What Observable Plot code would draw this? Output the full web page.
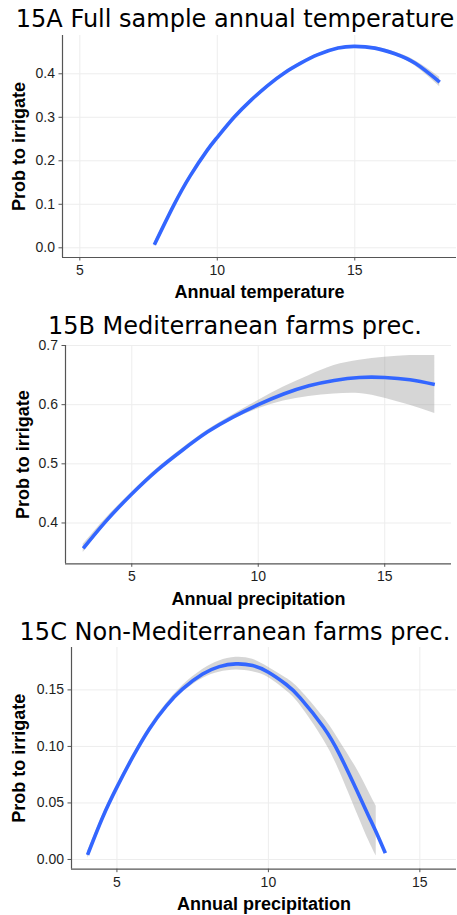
<!DOCTYPE html>
<html>
<head>
<meta charset="utf-8">
<script src="https://cdn.jsdelivr.net/npm/d3@7"></script>
<script src="https://cdn.jsdelivr.net/npm/@observablehq/plot@0.6"></script>
<style>
  body { margin: 0; background: #fff; }
  #page { position: relative; width: 457px; height: 915px; overflow: hidden; background: #fff; }
  .title { position: absolute; left: 0; width: 470px; text-align: center; font-family: "DejaVu Sans", Verdana, sans-serif; font-size: 24px; line-height: 24px; color: #000; white-space: nowrap; }
  .panel { position: absolute; left: 0; }
</style>
</head>
<body>
<div id="page"></div>
<script>
// 15A: fitted probability to irrigate vs annual temperature (full sample)
const tempX = [7.71, 8.41, 9.02, 9.63, 10, 10.61, 11.22, 11.83, 12.44, 13.05, 13.66, 14.39, 15, 15.73, 16.46, 17.2, 18.09];
const tempFit = [0.007, 0.097, 0.166, 0.224, 0.254, 0.300, 0.339, 0.373, 0.402, 0.425, 0.444, 0.459, 0.463, 0.459, 0.446, 0.424, 0.381];
const tempLow = [0.002, 0.093, 0.163, 0.222, 0.252, 0.298, 0.337, 0.371, 0.400, 0.423, 0.442, 0.457, 0.461, 0.456, 0.442, 0.418, 0.370];
const tempHigh = [0.012, 0.101, 0.169, 0.226, 0.256, 0.302, 0.341, 0.375, 0.404, 0.427, 0.446, 0.461, 0.465, 0.462, 0.450, 0.430, 0.392];

// 15B: Mediterranean farms, annual precipitation
const medX = [3.08, 4, 5, 6, 7, 8, 9, 10, 11, 12, 13, 14, 15, 16, 16.98];
const medFit = [0.357, 0.404, 0.449, 0.489, 0.523, 0.554, 0.579, 0.600, 0.618, 0.632, 0.641, 0.646, 0.646, 0.642, 0.634];
const medLow = [0.350, 0.399, 0.446, 0.486, 0.520, 0.551, 0.575, 0.593, 0.606, 0.614, 0.618, 0.619, 0.611, 0.599, 0.585];
const medHigh = [0.364, 0.409, 0.452, 0.492, 0.526, 0.557, 0.583, 0.607, 0.630, 0.649, 0.666, 0.675, 0.680, 0.683, 0.683];

// 15C: non-Mediterranean farms, annual precipitation
const nonMedX = [4.03, 4.53, 5, 5.52, 6.07, 6.62, 7.17, 7.83, 8.38, 8.93, 9.48, 10, 10.58, 11.05, 11.82, 12.37, 12.92, 13.30, 13.56, 13.86];
const nonMedFit = [0.0041, 0.0374, 0.064, 0.0905, 0.1155, 0.1355, 0.1509, 0.164, 0.1706, 0.173, 0.1715, 0.1656, 0.155, 0.143, 0.117, 0.0919, 0.061, 0.039, 0.024, 0.0056];
const nonMedBandX = [4.03, 4.53, 5, 5.52, 6.07, 6.62, 7.17, 7.83, 8.38, 8.93, 9.48, 10, 10.58, 11.05, 11.82, 12.37, 12.92, 13.30, 13.56];
const nonMedLow = [0.0011, 0.0354, 0.062, 0.0885, 0.1135, 0.1335, 0.1479, 0.160, 0.1656, 0.1676, 0.166, 0.161, 0.1495, 0.1365, 0.106, 0.0767, 0.0414, 0.0175, 0.0030];
const nonMedHigh = [0.0071, 0.0394, 0.066, 0.0925, 0.1175, 0.1375, 0.1539, 0.168, 0.1756, 0.1788, 0.177, 0.170, 0.1605, 0.150, 0.1257, 0.104, 0.080, 0.0605, 0.0470];

// Axis ticks
const tempTicks = [5, 10, 15];
const precTicks = [5, 10, 15];
const probTicksA = [0, 0.1, 0.2, 0.3, 0.4];
const probTicksB = [0.4, 0.5, 0.6, 0.7];
const probTicksC = [0, 0.05, 0.10, 0.15];

const titles = ["15A Full sample annual temperature", "15B Mediterranean farms prec.", "15C Non-Mediterranean farms prec."];
const xLabels = ["Annual temperature", "Annual precipitation", "Annual precipitation"];
const yLabel = "Prob to irrigate";

const gridColor = "#ededed";
const axisColor = "#555555";
const textColor = "#1e1e1e";

function panel(o) {
  const fit = o.lineX.map((x, i) => ({x, y: o.lineY[i]}));
  const band = o.bandX.map((x, i) => ({x, lo: o.bandLow[i], hi: o.bandHigh[i]}));
  return Plot.plot({
    width: 457,
    height: o.height,
    marginTop: 12,
    marginLeft: o.marginLeft,
    marginRight: o.marginRight,
    marginBottom: o.marginBottom,
    style: {fontFamily: "'Liberation Sans', Arial, sans-serif", fontSize: "14px", background: "transparent", color: textColor},
    x: {domain: o.xDomain},
    y: {domain: o.yDomain},
    marks: [
      Plot.gridX(o.xTicks, {stroke: gridColor, strokeOpacity: 1}),
      Plot.gridY(o.yTicks, {stroke: gridColor, strokeOpacity: 1}),
      Plot.areaY(band, {x: "x", y1: "lo", y2: "hi", fill: "#999999", fillOpacity: 0.4, curve: "natural"}),
      Plot.line(fit, {x: "x", y: "y", stroke: "#3366FF", strokeWidth: 3.6, strokeLinecap: "butt", curve: "natural"}),
      Plot.ruleX([o.xDomain[0]], {stroke: axisColor, strokeWidth: 1.2}),
      Plot.ruleY([o.yDomain[0]], {stroke: axisColor, strokeWidth: 1.2}),
      Plot.axisX(o.xTicks, {tickSize: 3.5, tickPadding: 4, stroke: axisColor, fill: textColor, label: null}),
      Plot.axisY(o.yTicks, {tickSize: 3.5, tickPadding: 4, stroke: axisColor, fill: textColor, tickFormat: o.yFormat, label: null}),
      Plot.text([o.xLabel], {frameAnchor: "bottom", dy: o.xTitleOffset, lineAnchor: "middle", textAnchor: "middle", fontWeight: "bold", fontSize: 18, fill: "#000"}),
      Plot.text([yLabel], {frameAnchor: "left", rotate: -90, dx: -o.yTitleOffset, lineAnchor: "middle", textAnchor: "middle", fontWeight: "bold", fontSize: 18, fill: "#000"})
    ]
  });
}

const panels = [
  {
    title: titles[0], titleTop: 6.5, top: 23,
    lineX: tempX, lineY: tempFit, bandX: tempX, bandLow: tempLow, bandHigh: tempHigh,
    xDomain: [4.37, 18.70], yDomain: [-0.0223, 0.488],
    xTicks: tempTicks, yTicks: probTicksA, yFormat: d3.format(".1f"),
    xLabel: xLabels[0], height: 282, marginLeft: 62, marginRight: 1, marginBottom: 48,
    xTitleOffset: 34.7, yTitleOffset: 43
  },
  {
    title: titles[1], titleTop: 314, top: 333,
    lineX: medX, lineY: medFit, bandX: medX, bandLow: medLow, bandHigh: medHigh,
    xDomain: [2.38, 17.64], yDomain: [0.331, 0.700],
    xTicks: precTicks, yTicks: probTicksB, yFormat: d3.format(".1f"),
    xLabel: xLabels[1], height: 278.3, marginLeft: 65, marginRight: 6, marginBottom: 48,
    xTitleOffset: 35, yTitleOffset: 42.5
  },
  {
    title: titles[2], titleTop: 619.7, top: 634.7,
    lineX: nonMedX, lineY: nonMedFit, bandX: nonMedBandX, bandLow: nonMedLow, bandHigh: nonMedHigh,
    xDomain: [3.50, 16.21], yDomain: [-0.0086, 0.1875],
    xTicks: precTicks, yTicks: probTicksC, yFormat: d3.format(".2f"),
    xLabel: xLabels[2], height: 280, marginLeft: 71, marginRight: 1, marginBottom: 46.3,
    xTitleOffset: 34.6, yTitleOffset: 52
  }
];

const page = document.getElementById("page");
for (const p of panels) {
  const holder = document.createElement("div");
  holder.className = "panel";
  holder.style.top = p.top + "px";
  holder.appendChild(panel(p));
  page.appendChild(holder);

  const t = document.createElement("div");
  t.className = "title";
  t.style.top = p.titleTop + "px";
  t.textContent = p.title;
  page.appendChild(t);
}
</script>
</body>
</html>
